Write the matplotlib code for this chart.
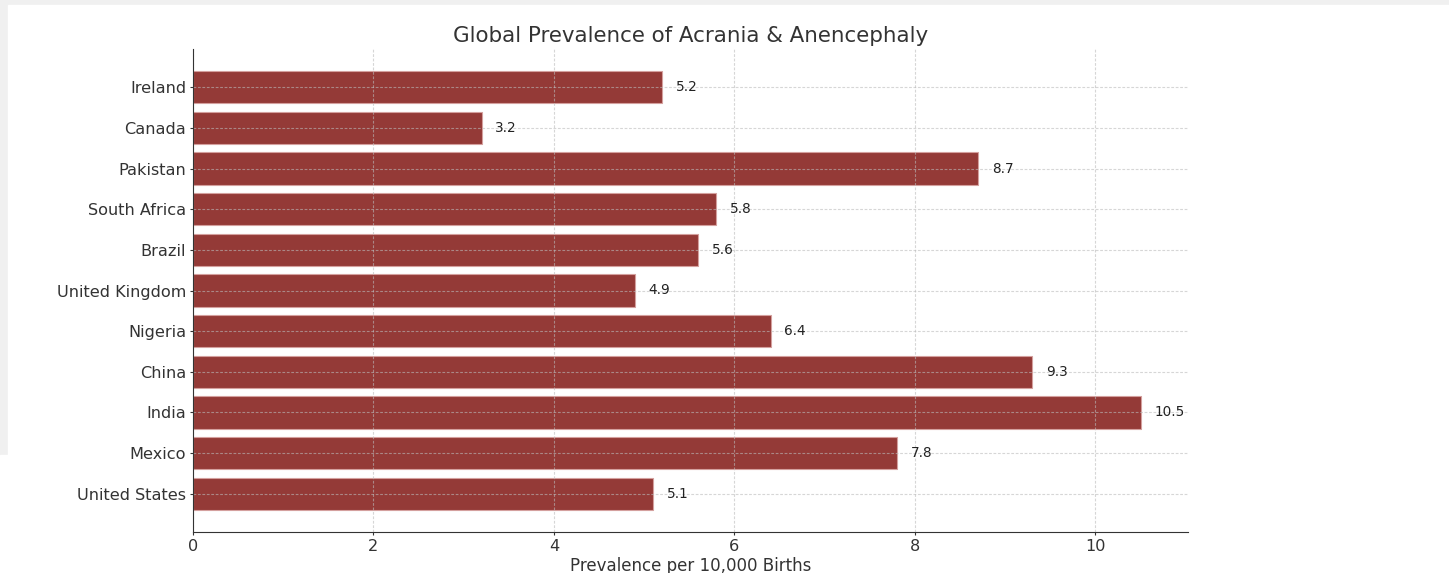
import matplotlib.pyplot as plt
from matplotlib.patches import Rectangle

countries = ["United States", "Mexico", "India", "China", "Nigeria", "United Kingdom",
             "Brazil", "South Africa", "Pakistan", "Canada", "Ireland"]
prevalence = [5.1, 7.8, 10.5, 9.3, 6.4, 4.9, 5.6, 5.8, 8.7, 3.2, 5.2]


def main():
        fig = plt.figure(figsize=(14.49, 5.73), dpi=100, facecolor="#f0f0f0")
        # white panel of the screenshot
        fig.patches.append(Rectangle((8 / 1449, 0), 1 - 8 / 1449, 1 - 5 / 573,
                                     transform=fig.transFigure, color="white", zorder=-2))
        fig.patches.append(Rectangle((0, 0), 8 / 1449, 1 - 455 / 573,
                                     transform=fig.transFigure, color="white", zorder=-2))
        ax = fig.add_axes([193 / 1449, 1 - 532 / 573, (1188 - 193) / 1449, (532 - 49) / 573])
        ax.set_facecolor("white")

        ax.barh(countries, prevalence, color="#943a37", height=0.8,
                edgecolor="#d4a09e", linewidth=0.8)
        for i, v in enumerate(prevalence):
                ax.text(v + 0.15, i, str(v), va="center", ha="left", fontsize=9.8, color="#222222")

        ax.set_title("Global Prevalence of Acrania & Anencephaly", fontsize=15.4, color="#333333", pad=5)
        ax.set_xlabel("Prevalence per 10,000 Births", fontsize=12, color="#333333", labelpad=2)
        ax.tick_params(labelsize=11.6, colors="#333333", length=2.5, pad=2.5)
        ax.grid(True, linestyle=(0, (2.5, 1.5)), color="#bbbbbb", alpha=0.6, linewidth=0.8)
        ax.spines["top"].set_visible(False)
        ax.spines["right"].set_visible(False)
        ax.spines["left"].set_color("#333333")
        ax.spines["bottom"].set_color("#333333")

        fig.savefig("out.png", dpi=100, facecolor=fig.get_facecolor())


main()
